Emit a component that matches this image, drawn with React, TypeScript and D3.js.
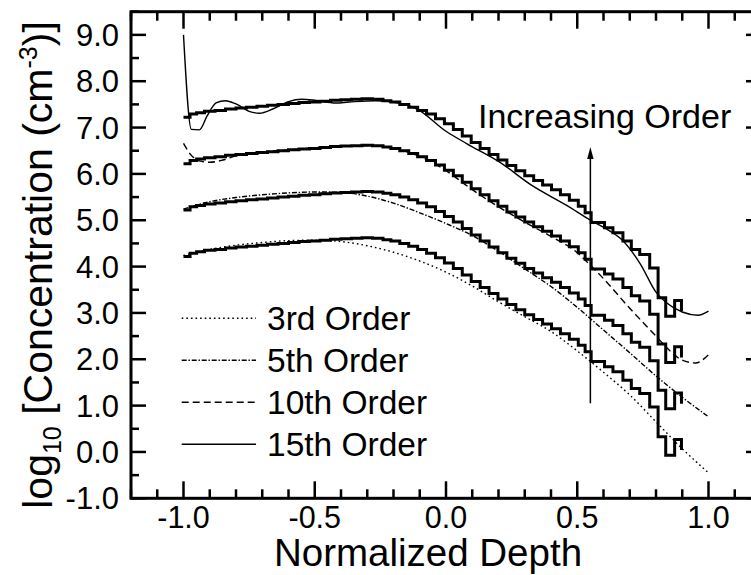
import React from 'react';
import * as d3 from 'd3';

const W = 751;
const H = 575;

// Measured data profile (lowest set); the other sets are shifted by whole decades
const stepX = [-1.0, -0.975, -0.95, -0.92, -0.88, -0.84, -0.8, -0.76, -0.72, -0.68, -0.64, -0.6, -0.56, -0.52, -0.48, -0.44, -0.4, -0.36, -0.32, -0.28, -0.24,
  -0.21, -0.176, -0.142, -0.108, -0.074, -0.04, -0.006, 0.028, 0.062, 0.096, 0.13, 0.164, 0.198, 0.232, 0.266, 0.3, 0.334, 0.368, 0.402, 0.436, 0.47, 0.504, 0.53,
  0.553, 0.604, 0.636, 0.674, 0.706, 0.738, 0.776, 0.808, 0.837, 0.871, 0.897];
const stepY = [4.22, 4.29, 4.32, 4.35, 4.37, 4.4, 4.42, 4.44, 4.46, 4.48, 4.5, 4.52, 4.54, 4.55, 4.57, 4.59, 4.6, 4.61, 4.62, 4.61, 4.58,
  4.55, 4.5, 4.44, 4.37, 4.29, 4.19, 4.08, 3.96, 3.82, 3.68, 3.55, 3.42, 3.3, 3.18, 3.07, 2.96, 2.86, 2.76, 2.66, 2.55, 2.43, 2.3, 2.16,
  1.95, 1.84, 1.73, 1.55, 1.37, 1.26, 0.97, 0.33, -0.07, 0.27, 0.04];
const setOffsets = [0, 1, 2, 3];

// Polynomial fits (as plotted)
const fit3X = [-1.0, -0.9, -0.8, -0.7, -0.6, -0.5, -0.4, -0.3, -0.2, -0.1, 0.0, 0.1, 0.2, 0.3, 0.4, 0.5, 0.6, 0.7, 0.8, 0.9, 1.0];
const fit3Y = [4.24, 4.37, 4.46, 4.52, 4.56, 4.57, 4.54, 4.45, 4.31, 4.12, 3.88, 3.58, 3.24, 2.92, 2.6, 2.18, 1.72, 1.23, 0.65, 0.07, -0.45];

const fit5X = [-1.0, -0.9, -0.8, -0.7, -0.6, -0.5, -0.4, -0.3, -0.2, -0.1, 0.0, 0.1, 0.2, 0.3, 0.4, 0.5, 0.6, 0.7, 0.8, 0.9, 1.0];
const fit5Y = [5.24, 5.4, 5.49, 5.55, 5.59, 5.61, 5.6, 5.52, 5.37, 5.16, 4.93, 4.67, 4.33, 3.95, 3.57, 3.12, 2.63, 2.14, 1.64, 1.18, 0.76];

const fit10X = [-1.0, -0.97, -0.94, -0.9, -0.85, -0.8, -0.7, -0.6, -0.5, -0.4, -0.3, -0.2, -0.1, 0.0, 0.1, 0.2, 0.3, 0.4, 0.5, 0.55, 0.6, 0.7, 0.8, 0.85, 0.9, 0.95, 1.0];
const fit10Y = [6.66, 6.4, 6.28, 6.25, 6.3, 6.39, 6.47, 6.52, 6.56, 6.6, 6.61, 6.55, 6.38, 6.07, 5.66, 5.29, 4.96, 4.65, 4.3, 4.03, 3.74, 3.1, 2.5, 2.2, 1.98, 1.92, 2.1];

const fit15X = [-1.0, -0.97, -0.94, -0.91, -0.876, -0.84, -0.8, -0.75, -0.71, -0.66, -0.6, -0.55, -0.5, -0.42, -0.37, -0.27, -0.18, -0.11, 0.0, 0.08, 0.2, 0.33, 0.46, 0.55, 0.62, 0.67, 0.74, 0.8, 0.84, 0.9, 0.96, 1.0];
const fit15Y = [9.0, 6.96, 6.95, 7.25, 7.53, 7.58, 7.51, 7.35, 7.31, 7.4, 7.56, 7.61, 7.59, 7.53, 7.55, 7.58, 7.53, 7.4, 6.92, 6.65, 6.27, 5.74, 5.32, 5.0, 4.78, 4.58, 4.06, 3.45, 3.22, 3.02, 2.95, 3.04];

const legendLabels = ['3rd Order', '5th Order', '10th Order', '15th Order'];
const xTickLabels = [-1.0, -0.5, 0.0, 0.5, 1.0];
const yTickLabels = [-1, 0, 1, 2, 3, 4, 5, 6, 7, 8, 9];
const arrowX = 0.55;
const arrowY = [1.05, 6.58];

const FONT = 'Liberation Sans, Arial, Helvetica, sans-serif';

export default function App() {
  const left = 131, right = 761, top = 11.7, bottom = 498.3;
  const x = d3.scaleLinear().domain([-1.2, 1.2]).range([left, right]);
  const y = d3.scaleLinear().domain([-1, 9.5]).range([bottom, top]);

  const stepLine = d3.line<number>().x((_, i) => x(stepX[i])).y((d) => y(d)).curve(d3.curveStepAfter);
  const smooth = (xs: number[], ys: number[]) =>
    d3.line<number>().x((_, i) => x(xs[i])).y((d) => y(d)).curve(d3.curveMonotoneX)(ys) || '';

  const fits = [
    { d: smooth(fit3X, fit3Y), dash: '1.6,3' },
    { d: smooth(fit5X, fit5Y), dash: '5,1.8,1.4,1.8' },
    { d: smooth(fit10X, fit10Y), dash: '7,4' },
    { d: smooth(fit15X, fit15Y), dash: 'none' },
  ];

  const xMinor = d3.range(-12, 13).map((v) => v / 10);
  const yMinor = d3.range(-2, 20).map((v) => v / 2);
  const isMajorX = (v: number) => Math.abs(Math.round(v * 2) - v * 2) < 1e-6;
  const isMajorY = (v: number) => Math.abs(Math.round(v) - v) < 1e-6;

  const legendRowsY = [318.3, 360.3, 402.3, 444.3];

  return (
    <svg width={W} height={H} style={{ position: 'absolute', left: 0, top: 0, background: '#fff' }} fontFamily={FONT}>
      <rect x={0} y={0} width={W} height={H} fill="#fff" />
      {/* ticks */}
      <g stroke="#000" strokeWidth={2.5}>
        {xMinor.map((v) => {
          const L = isMajorX(v) ? 17 : 9;
          return (
            <g key={'xt' + v}>
              <line x1={x(v)} x2={x(v)} y1={bottom} y2={bottom - L} />
              <line x1={x(v)} x2={x(v)} y1={top} y2={top + L} />
            </g>
          );
        })}
        {yMinor.map((v) => {
          const L = isMajorY(v) ? 15 : 8;
          return (
            <g key={'yt' + v}>
              <line x1={left} x2={left + L} y1={y(v)} y2={y(v)} />
              <line x1={right} x2={right - L} y1={y(v)} y2={y(v)} />
            </g>
          );
        })}
      </g>
      <rect x={left} y={top} width={right - left} height={bottom - top} fill="none" stroke="#000" strokeWidth={3} />

      {/* tick labels */}
      {xTickLabels.map((v) => (
        <text key={'xl' + v} x={x(v)} y={bottom + 29.5} textAnchor="middle" fontSize={30.5}>
          {v.toFixed(1)}
        </text>
      ))}
      {yTickLabels.map((v) => (
        <text key={'yl' + v} x={119} y={y(v) + 11} textAnchor="end" fontSize={31}>
          {v.toFixed(1)}
        </text>
      ))}

      {/* axis titles */}
      <text x={(264 + 592) / 2} y={566.3} textAnchor="middle" fontSize={38.5}>Normalized Depth</text>
      <text transform={`translate(52,265) rotate(-90)`} textAnchor="middle" fontSize={41}>
        log<tspan fontSize={25} dy={9}>10</tspan>
        <tspan dy={-9}> [Concentration (cm</tspan>
        <tspan fontSize={25} dy={-15}>-3</tspan>
        <tspan dy={15}>)]</tspan>
      </text>

      {/* data staircases */}
      <g fill="none" stroke="#000" strokeWidth={3} strokeLinejoin="miter">
        {setOffsets.map((o) => (
          <path key={'s' + o} d={stepLine(stepY.map((v) => v + o)) || ''} />
        ))}
      </g>

      {/* fits */}
      <g fill="none" stroke="#000" strokeWidth={1.4}>
        {fits.map((f, i) => (
          <path key={'f' + i} d={f.d} strokeDasharray={f.dash} />
        ))}
      </g>

      {/* arrow */}
      <line x1={x(arrowX)} x2={x(arrowX)} y1={y(arrowY[0])} y2={y(arrowY[1]) + 8} stroke="#000" strokeWidth={1.5} />
      <path
        d={`M${x(arrowX)},${y(arrowY[1])} L${x(arrowX) - 3.2},${y(arrowY[1]) + 12} L${x(arrowX) + 3.2},${y(arrowY[1]) + 12} Z`}
        fill="#000"
      />
      <text x={478} y={128} fontSize={34}>Increasing Order</text>

      {/* legend */}
      {legendLabels.map((lab, i) => (
        <g key={lab}>
          <line x1={181.7} x2={256} y1={legendRowsY[i]} y2={legendRowsY[i]} stroke="#000" strokeWidth={1.4} strokeDasharray={fits[i].dash} />
          <text x={267} y={legendRowsY[i] + 11.7} fontSize={33.5}>{lab}</text>
        </g>
      ))}
    </svg>
  );
}
